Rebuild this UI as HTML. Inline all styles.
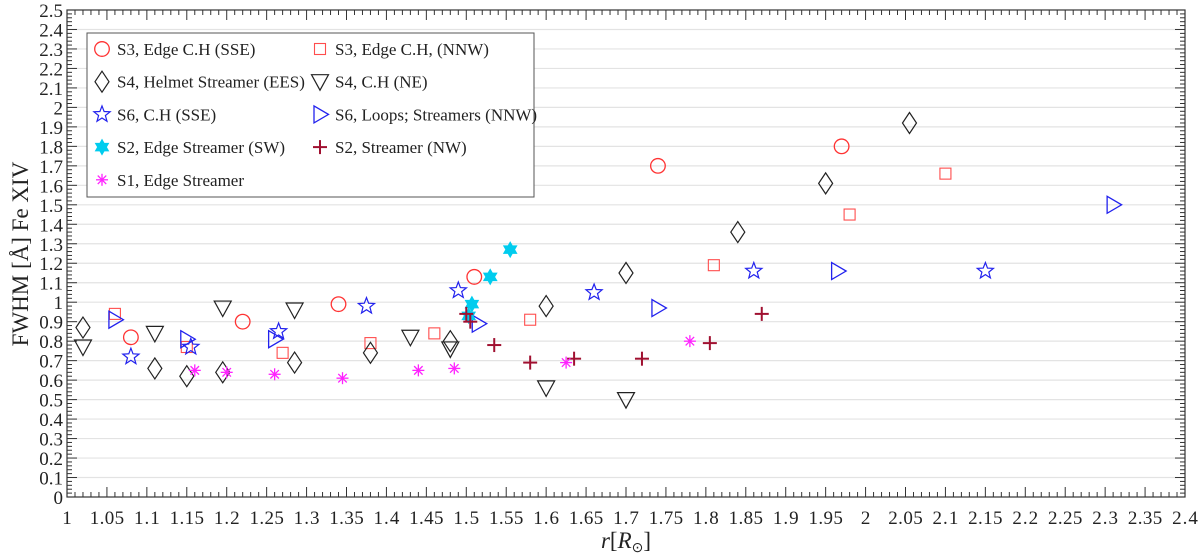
<!DOCTYPE html>
<html><head><meta charset="utf-8"><style>
body{margin:0;background:#fff}
svg{display:block;font-family:"Liberation Serif",serif}
</style></head><body>
<svg id="c" width="1200" height="553"></svg>
<script>
const xTicks=[1,1.05,1.1,1.15,1.2,1.25,1.3,1.35,1.4,1.45,1.5,1.55,1.6,1.65,1.7,1.75,1.8,1.85,1.9,1.95,2,2.05,2.1,2.15,2.2,2.25,2.3,2.35,2.4];
const yTicks=[0,0.1,0.2,0.3,0.4,0.5,0.6,0.7,0.8,0.9,1,1.1,1.2,1.3,1.4,1.5,1.6,1.7,1.8,1.9,2,2.1,2.2,2.3,2.4,2.5];
const s3sseX=[1.08,1.22,1.34,1.51,1.74,1.97];
const s3sseY=[0.82,0.90,0.99,1.13,1.70,1.80];
const s3nnwX=[1.06,1.15,1.27,1.38,1.46,1.58,1.81,1.98,2.10];
const s3nnwY=[0.94,0.77,0.74,0.79,0.84,0.91,1.19,1.45,1.66];
const s4helmX=[1.02,1.11,1.15,1.195,1.285,1.38,1.48,1.60,1.70,1.84,1.95,2.055];
const s4helmY=[0.87,0.66,0.62,0.64,0.69,0.74,0.80,0.98,1.15,1.36,1.61,1.92];
const s4neX=[1.02,1.11,1.195,1.285,1.43,1.48,1.60,1.70];
const s4neY=[0.77,0.84,0.97,0.96,0.82,0.76,0.56,0.50];
const s6chX=[1.08,1.155,1.265,1.375,1.49,1.66,1.86,2.15];
const s6chY=[0.72,0.77,0.85,0.98,1.06,1.05,1.16,1.16];
const s6loopX=[1.06,1.15,1.26,1.515,1.74,1.965,2.31];
const s6loopY=[0.91,0.81,0.81,0.89,0.97,1.16,1.50];
const s2swX=[1.503,1.507,1.53,1.555];
const s2swY=[0.93,0.99,1.13,1.27];
const s2nwX=[1.50,1.505,1.535,1.58,1.635,1.72,1.805,1.87];
const s2nwY=[0.94,0.90,0.78,0.69,0.71,0.71,0.79,0.94];
const s1X=[1.16,1.20,1.26,1.345,1.44,1.485,1.625,1.78];
const s1Y=[0.65,0.64,0.63,0.61,0.65,0.66,0.69,0.80];

const L=67,R=1185,T=10,B=497;
const xs=v=>L+(v-1)/(1.4)*(R-L);
const ys=v=>B-v/2.5*(B-T);
const svg=document.getElementById('c');
const NS='http://www.w3.org/2000/svg';
function mk(tag,at,parent){const e=document.createElementNS(NS,tag);for(const k in at)e.setAttribute(k,at[k]);(parent||svg).appendChild(e);return e;}

const grid=mk('g',{});


yTicks.forEach(v=>{if(v>0&&v<2.5)mk('line',{x1:L,x2:R,y1:ys(v),y2:ys(v),stroke:'#e3e3e3','stroke-width':1.2},grid);});
const ax=mk('g',{stroke:'#333','stroke-width':1});


for(let i=0;i<=140;i++){const v=1+i*0.01;const x=xs(v);const maj=i%5===0;const len=maj?10:5;
 mk('line',{x1:x,x2:x,y1:B,y2:B-len},ax);mk('line',{x1:x,x2:x,y1:T,y2:T+len},ax);}
for(let i=0;i<=125;i++){const y=ys(i*0.02);const maj=i%5===0;const len=maj?10:5;
 mk('line',{x1:L,x2:L+len,y1:y,y2:y},ax);mk('line',{x1:R,x2:R-len,y1:y,y2:y},ax);}
mk('rect',{x:L,y:T,width:R-L,height:B-T,fill:'none',stroke:'#333','stroke-width':1.2},ax);
const xl=mk('g',{'font-size':19,fill:'#222','text-anchor':'middle'});


xTicks.forEach(v=>{const t=mk('text',{x:xs(v),y:B+27,textLength:(String(v).length>2?String(v).length*8.6:String(v).length*9)},xl);t.textContent=String(v);});
const yl=mk('g',{'font-size':19,fill:'#222','text-anchor':'end'});


yTicks.forEach(v=>{const t=mk('text',{x:L-4,y:ys(v)+7},yl);t.textContent=String(v);});
const xt=mk('text',{x:626,y:548,'font-size':23,'text-anchor':'middle',fill:'#222'});


xt.innerHTML='<tspan font-style="italic">r</tspan>[<tspan font-style="italic">R</tspan><tspan font-size="14" dy="4">⊙</tspan><tspan dy="-4">]</tspan>';
const yt=mk('text',{x:0,y:0,'font-size':23,'text-anchor':'middle',fill:'#222',transform:'translate(28,254) rotate(-90)'});


yt.textContent='FWHM [Å] Fe XIV';

function marker(type,cx,cy,col,g){
 if(type==='circle')mk('circle',{cx,cy,r:7.3,fill:'none',stroke:col,'stroke-width':1.3},g);
 else if(type==='square')mk('rect',{x:cx-5.5,y:cy-5.5,width:11,height:11,fill:'none',stroke:col,'stroke-width':1.1},g);
 else if(type==='diamond')mk('polygon',{points:`${cx},${cy-10.5} ${cx+7},${cy} ${cx},${cy+10.5} ${cx-7},${cy}`,fill:'none',stroke:col,'stroke-width':1.2},g);
 else if(type==='tdown')mk('polygon',{points:`${cx-8.5},${cy-7} ${cx+8.5},${cy-7} ${cx},${cy+8.5}`,fill:'none',stroke:col,'stroke-width':1.2},g);
 else if(type==='tright')mk('polygon',{points:`${cx-6},${cy-8.5} ${cx+8.5},${cy} ${cx-6},${cy+8.5}`,fill:'none',stroke:col,'stroke-width':1.3},g);
 else if(type==='star'||type==='hex'){let p=[];const n=type==='star'?5:6;const ro=type==='star'?8.5:7.3,ri=type==='star'?3.6:4.2;
  for(let i=0;i<2*n;i++){const a=-Math.PI/2+i*Math.PI/n;const r=i%2?ri:ro;p.push((cx+r*Math.cos(a)).toFixed(1)+','+(cy+r*Math.sin(a)).toFixed(1));}
  mk('polygon',{points:p.join(' '),fill:type==='hex'?col:'none',stroke:col,'stroke-width':1.2},g);}
 else if(type==='plus'){mk('line',{x1:cx-7,x2:cx+7,y1:cy,y2:cy,stroke:col,'stroke-width':2},g);mk('line',{x1:cx,x2:cx,y1:cy-7,y2:cy+7,stroke:col,'stroke-width':2},g);}
 else if(type==='ast'){for(let i=0;i<4;i++){const a=i*Math.PI/4;mk('line',{x1:cx-6*Math.cos(a),x2:cx+6*Math.cos(a),y1:cy-6*Math.sin(a),y2:cy+6*Math.sin(a),stroke:col,'stroke-width':1.3},g);}}
}
const series=[
 ['s3-sse','circle','#ff3333',s3sseX,s3sseY,'S3, Edge C.H (SSE)'],
 ['s3-nnw','square','#ff4d4d',s3nnwX,s3nnwY,'S3, Edge C.H, (NNW)'],
 ['s4-helmet','diamond','#222',s4helmX,s4helmY,'S4, Helmet Streamer (EES)'],
 ['s4-ne','tdown','#222',s4neX,s4neY,'S4, C.H (NE)'],
 ['s6-ch','star','#2222ee',s6chX,s6chY,'S6, C.H (SSE)'],
 ['s6-loops','tright','#2222ee',s6loopX,s6loopY,'S6, Loops; Streamers (NNW)'],
 ['s2-sw','hex','#00ccee',s2swX,s2swY,'S2, Edge Streamer (SW)'],
 ['s2-nw','plus','#a01030',s2nwX,s2nwY,'S2, Streamer (NW)'],
 ['s1','ast','#ff22ff',s1X,s1Y,'S1, Edge Streamer']
];
series.forEach(s=>{const g=mk('g',{});
 
 
 s[3].forEach((x,i)=>marker(s[1],xs(x),ys(s[4][i]),s[2],g));});

const lg=mk('g',{});


mk('rect',{x:87,y:33,width:447,height:164,fill:'#fff',stroke:'#555','stroke-width':1},lg);
series.forEach((s,i)=>{const col=i%2,row=Math.floor(i/2);const x=col?320:102,y=49+row*32.7;
 const e=mk('g',{},lg);
 
 
 marker(s[1],x,y,s[2],e);
 const t=mk('text',{x:x+15,y:y+6,'font-size':17,fill:'#222'},e);t.textContent=s[5];});
</script>
</body></html>
